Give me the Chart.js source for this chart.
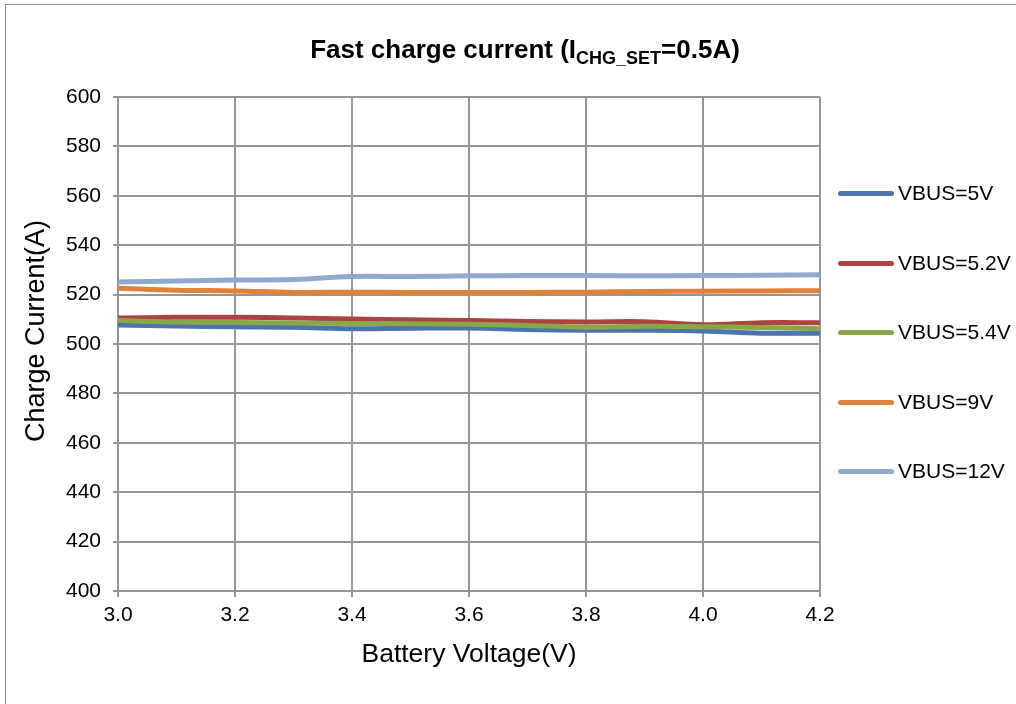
<!DOCTYPE html>
<html>
<head>
<meta charset="utf-8">
<script src="https://cdn.jsdelivr.net/npm/chart.js@4.4.1/dist/chart.umd.min.js"></script>
<style>
  html, body { margin: 0; padding: 0; background: #fff; overflow: hidden; }
  #wrap { position: relative; width: 1016px; height: 704px; }
  #frame { position: absolute; left: 5px; top: 4px; width: 1100px; height: 800px;
           border-left: 1.5px solid #8c8c8c; border-top: 1.5px solid #8c8c8c; pointer-events: none; }
  #legend { position: absolute; left: 838px; top: 0; font-family: "Liberation Sans", Arial, sans-serif;
            font-size: 21px; color: #000; }
  .item { position: absolute; left: 0; display: flex; align-items: center; white-space: nowrap;
          height: 26px; margin-top: -13px; }
  .swatch { width: 56px; height: 5px; border-radius: 3px; margin-right: 4px; }
</style>
</head>
<body>
<div id="wrap">
  <canvas id="chart" width="1016" height="704"></canvas>
  <div id="frame"></div>
  <div id="legend"></div>
</div>
<script>
// battery voltage (V)
const voltages = [3.0, 3.1, 3.2, 3.3, 3.4, 3.5, 3.6, 3.7, 3.8, 3.9, 4.0, 4.1, 4.2];

// charge current (mA) per VBUS
const vbus5V   = [507.7, 507.3, 507.0, 506.8, 506.2, 506.4, 506.5, 505.9, 505.6, 505.6, 505.3, 504.4, 504.4];
const vbus5_2V = [510.5, 510.8, 510.8, 510.5, 510.1, 509.8, 509.5, 509.1, 508.9, 509.0, 507.8, 508.6, 508.6];
const vbus5_4V = [509.5, 508.9, 508.7, 508.5, 508.3, 508.2, 508.0, 507.5, 506.8, 507.2, 507.0, 506.7, 506.2];
const vbus9V   = [522.6, 521.8, 521.5, 520.9, 521.0, 520.9, 520.8, 520.9, 521.0, 521.3, 521.4, 521.5, 521.6];
const vbus12V  = [525.1, 525.5, 525.9, 526.1, 527.3, 527.3, 527.6, 527.7, 527.7, 527.6, 527.7, 527.8, 528.0];

const seriesNames = ['VBUS=5V', 'VBUS=5.2V', 'VBUS=5.4V', 'VBUS=9V', 'VBUS=12V'];
const seriesData = [vbus5V, vbus5_2V, vbus5_4V, vbus9V, vbus12V];
const colors = ['#4a74ae', '#ad4341', '#88a74a', '#e0823a', '#8fa9d0'];

const font = '"Liberation Sans", Arial, sans-serif';
const gridColor = '#969696';

const datasets = seriesNames.map((name, i) => ({
    label: name,
    data: voltages.map((v, j) => ({ x: v, y: seriesData[i][j] })),
    borderColor: colors[i],
    backgroundColor: colors[i],
    borderWidth: 5,
    pointRadius: 0,
    tension: 0.4,
    order: seriesNames.length - i
}));

// title with subscript, plus the y axis title
const titlePlugin = {
    id: 'subTitle',
    afterDraw(chart) {
        const ctx = chart.ctx;
        const parts = [
            { t: 'Fast charge current (I', f: 'bold 26px ' + font, dy: 0 },
            { t: 'CHG_SET', f: 'bold 18px ' + font, dy: 6 },
            { t: '=0.5A)', f: 'bold 26px ' + font, dy: 0 }
        ];
        ctx.save();
        let w = 0;
        parts.forEach(p => { ctx.font = p.f; p.w = ctx.measureText(p.t).width; w += p.w; });
        let x = 525 - w / 2;
        ctx.fillStyle = '#000';
        ctx.textBaseline = 'alphabetic';
        parts.forEach(p => {
            ctx.font = p.f;
            ctx.fillText(p.t, x, 58 + p.dy);
            x += p.w;
        });

        ctx.translate(37, 331);
        ctx.rotate(-Math.PI / 2);
        ctx.font = '27px ' + font;
        ctx.textAlign = 'center';
        ctx.textBaseline = 'middle';
        ctx.fillText('Charge Current(A)', 0, 0);
        ctx.restore();
    }
};

const chart = new Chart(document.getElementById('chart'), {
    type: 'line',
    data: { datasets: datasets },
    options: {
        responsive: false,
        animation: false,
        layout: { padding: { top: 97, right: 196, left: 0, bottom: 0 } },
        plugins: {
            legend: { display: false },
            tooltip: { enabled: false }
        },
        scales: {
            x: {
                type: 'linear',
                min: 3.0,
                max: 4.2,
                afterFit(scale) { scale.height = 113; },
                ticks: {
                    stepSize: 0.2,
                    padding: 6,
                    color: '#000',
                    font: { family: font, size: 21 },
                    callback: v => v.toFixed(1)
                },
                grid: { color: gridColor, lineWidth: 2, tickLength: 6, tickColor: gridColor },
                border: { color: gridColor, width: 2 },
                title: {
                    display: true,
                    text: 'Battery Voltage(V)',
                    color: '#000',
                    font: { family: font, size: 26.5 },
                    padding: { top: 0, bottom: 33 }
                }
            },
            y: {
                min: 400,
                max: 600,
                afterFit(scale) { scale.width = 118; },
                ticks: {
                    stepSize: 20,
                    padding: 12,
                    color: '#000',
                    font: { family: font, size: 21 }
                },
                grid: { color: gridColor, lineWidth: 2, tickLength: 5, tickColor: gridColor },
                border: { color: gridColor, width: 2 }
            }
        }
    },
    plugins: [titlePlugin]
});

// html legend built from the datasets
const legendTops = [193, 263, 332, 402, 471];
const legend = document.getElementById('legend');
chart.data.datasets.forEach((ds, i) => {
    const item = document.createElement('div');
    item.className = 'item';
    item.style.top = legendTops[i] + 'px';
    const sw = document.createElement('span');
    sw.className = 'swatch';
    sw.style.background = ds.borderColor;
    const txt = document.createElement('span');
    txt.textContent = ds.label;
    item.appendChild(sw);
    item.appendChild(txt);
    legend.appendChild(item);
});
</script>
</body>
</html>
